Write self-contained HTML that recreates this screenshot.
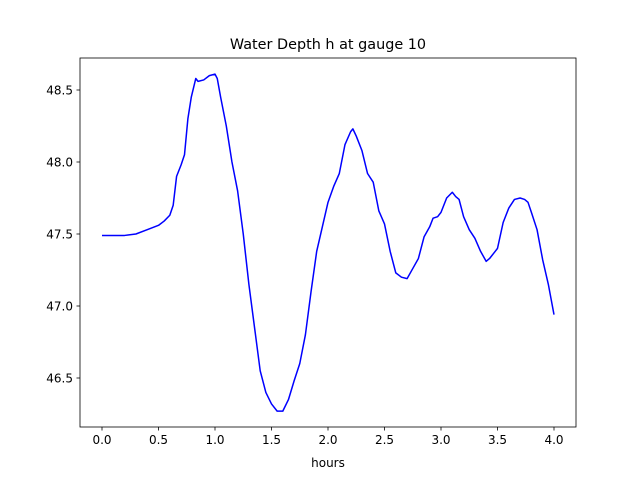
<!DOCTYPE html>
<html><head><meta charset="utf-8"><style>body{margin:0;background:#fff}svg text{font-family:"DejaVu Sans","Liberation Sans",sans-serif}</style></head>
<body>
<svg id="chart" width="640" height="480" xmlns="http://www.w3.org/2000/svg">
<rect width="640" height="480" fill="#fff"/>
<text x="328" y="49" font-size="14.4" text-anchor="middle">Water Depth h at gauge 10</text>
<g id="plot"></g>
<rect x="80" y="58" width="496" height="369" fill="none" stroke="#000" stroke-width="0.8"/>
<text x="328" y="467" font-size="12" text-anchor="middle">hours</text>
</svg>
<script>
const hours=[0,0.2,0.3,0.4,0.5,0.55,0.6,0.63,0.66,0.7,0.73,0.76,0.79,0.83,0.85,0.9,0.95,1.0,1.02,1.05,1.1,1.15,1.2,1.25,1.3,1.35,1.4,1.45,1.5,1.55,1.6,1.65,1.7,1.75,1.8,1.85,1.9,1.95,2.0,2.05,2.1,2.15,2.2,2.22,2.25,2.3,2.35,2.4,2.45,2.5,2.55,2.6,2.65,2.7,2.75,2.8,2.85,2.9,2.93,2.97,3.0,3.05,3.1,3.13,3.16,3.2,3.25,3.3,3.35,3.4,3.43,3.48,3.5,3.55,3.6,3.65,3.7,3.74,3.77,3.8,3.85,3.9,3.95,4.0];
const depth=[47.49,47.49,47.50,47.53,47.56,47.59,47.63,47.70,47.90,47.98,48.05,48.30,48.45,48.58,48.56,48.57,48.60,48.61,48.58,48.45,48.25,48.00,47.80,47.50,47.15,46.85,46.55,46.40,46.32,46.27,46.27,46.35,46.48,46.60,46.80,47.10,47.38,47.55,47.72,47.83,47.92,48.12,48.21,48.23,48.18,48.08,47.92,47.86,47.66,47.57,47.38,47.23,47.20,47.19,47.26,47.33,47.48,47.55,47.61,47.62,47.65,47.75,47.79,47.76,47.74,47.62,47.53,47.47,47.38,47.31,47.33,47.38,47.40,47.58,47.68,47.74,47.75,47.74,47.72,47.65,47.53,47.32,47.15,46.94];
const xTicks=[0,0.5,1,1.5,2,2.5,3,3.5,4];
const xTickLabels=["0.0","0.5","1.0","1.5","2.0","2.5","3.0","3.5","4.0"];
const yTicks=[46.5,47,47.5,48,48.5];
const yTickLabels=["46.5","47.0","47.5","48.0","48.5"];
const X=v=>102+v*113, Y=v=>90+(48.5-v)*144;
const g=document.getElementById('plot'), NS='http://www.w3.org/2000/svg';
function mk(t,a){const e=document.createElementNS(NS,t);for(const k in a)e.setAttribute(k,a[k]);g.appendChild(e);return e;}
xTicks.forEach((v,i)=>{
 const l=mk('line',{x1:X(v),x2:X(v),y1:427,y2:430.5,stroke:'#000','stroke-width':0.8});
 
 
 const t=mk('text',{x:X(v),y:444,'font-size':12,'text-anchor':'middle'});t.textContent=xTickLabels[i];
 
 
});
yTicks.forEach((v,i)=>{
 const l=mk('line',{x1:76.5,x2:80,y1:Y(v),y2:Y(v),stroke:'#000','stroke-width':0.8});
 
 
 const t=mk('text',{x:73,y:Y(v)+4.5,'font-size':12,'text-anchor':'end'});t.textContent=yTickLabels[i];
 
 
});
const p=mk('polyline',{points:hours.map((h,i)=>X(h)+','+Y(depth[i])).join(' '),fill:'none',stroke:'#0000ff','stroke-width':1.5,'stroke-linejoin':'round'});


</script>
</body></html>
